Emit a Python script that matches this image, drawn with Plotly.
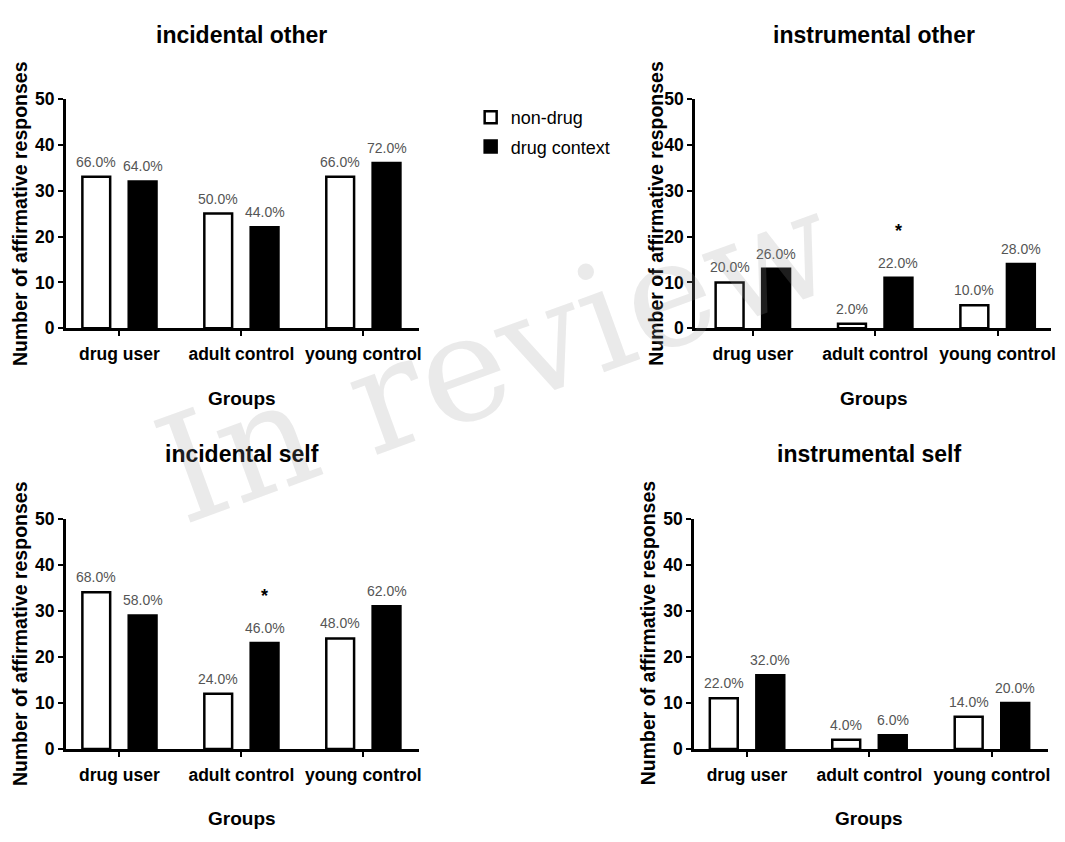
import plotly.graph_objects as go

groups = ["drug user", "adult control", "young control"]
panel_titles = ["incidental other", "instrumental other", "incidental self", "instrumental self"]

# counts out of 50 (percent = count * 2)
incidental_other_nondrug = [33, 25, 33]
incidental_other_drug = [32, 22, 36]
instrumental_other_nondrug = [10, 1, 5]
instrumental_other_drug = [13, 11, 14]
incidental_self_nondrug = [34, 12, 24]
incidental_self_drug = [29, 23, 31]
instrumental_self_nondrug = [11, 2, 7]
instrumental_self_drug = [16, 3, 10]

pct_incidental_other_nondrug = ["66.0%", "50.0%", "66.0%"]
pct_incidental_other_drug = ["64.0%", "44.0%", "72.0%"]
pct_instrumental_other_nondrug = ["20.0%", "2.0%", "10.0%"]
pct_instrumental_other_drug = ["26.0%", "22.0%", "28.0%"]
pct_incidental_self_nondrug = ["68.0%", "24.0%", "48.0%"]
pct_incidental_self_drug = ["58.0%", "46.0%", "62.0%"]
pct_instrumental_self_nondrug = ["22.0%", "4.0%", "14.0%"]
pct_instrumental_self_drug = ["32.0%", "6.0%", "20.0%"]

# significance stars: (panel index, group index) on drug-context bar
stars = [(1, 1), (2, 1)]

y_ticks = [0, 10, 20, 30, 40, 50]

panels = [
    (incidental_other_nondrug, incidental_other_drug, pct_incidental_other_nondrug, pct_incidental_other_drug),
    (instrumental_other_nondrug, instrumental_other_drug, pct_instrumental_other_nondrug, pct_instrumental_other_drug),
    (incidental_self_nondrug, incidental_self_drug, pct_incidental_self_nondrug, pct_incidental_self_drug),
    (instrumental_self_nondrug, instrumental_self_drug, pct_instrumental_self_nondrug, pct_instrumental_self_drug),
]

W, H = 1065, 842
FONT = "Liberation Sans, Arial, sans-serif"

# layout geometry (paper fractions)
x_domains = [[0.062, 0.395], [0.655, 0.991], [0.062, 0.395], [0.654, 0.988]]
y_domains = [[0.6128, 0.8919], [0.6128, 0.8919], [0.1010, 0.3812], [0.1010, 0.3812]]
x_ranges = [[-0.44, 2.457], [-0.473, 2.44], [-0.44, 2.457], [-0.434, 2.46]]
title_pos = [(0.228, 0.970), (0.824, 0.970), (0.228, 0.4596), (0.819, 0.4596)]
xtitle_pos = [(0.228, 0.527), (0.824, 0.527), (0.228, 0.0166), (0.819, 0.0166)]
ytitle_pos = [(0.0188, 0.753), (0.618, 0.753), (0.0188, 0.242), (0.611, 0.242)]

BARGAP = 0.24
BARGROUPGAP = 0.40
OFF = (1 - BARGAP) / 4

xpos = list(range(len(groups)))

fig = go.Figure()
annotations = []

for i, (nd, dr, pnd, pdr) in enumerate(panels):
    xa = "x" if i == 0 else f"x{i+1}"
    ya = "y" if i == 0 else f"y{i+1}"
    fig.add_trace(go.Bar(
        x=xpos, y=nd, name="non-drug", xaxis=xa, yaxis=ya,
        marker=dict(color="white", line=dict(color="black", width=2.5)),
        showlegend=(i == 0), legendgroup="a", hoverinfo="skip",
    ))
    fig.add_trace(go.Bar(
        x=xpos, y=dr, name="drug context", xaxis=xa, yaxis=ya,
        marker=dict(color="black", line=dict(color="black", width=2.5)),
        showlegend=(i == 0), legendgroup="b", hoverinfo="skip",
    ))
    for g in xpos:
        annotations.append(dict(
            x=g - OFF, y=nd[g], xref=xa, yref=ya, text=pnd[g], showarrow=False,
            yanchor="middle", yshift=15, font=dict(family=FONT, size=14, color="#555555"),
        ))
        annotations.append(dict(
            x=g + OFF, y=dr[g], xref=xa, yref=ya, text=pdr[g], showarrow=False,
            yanchor="middle", yshift=15, font=dict(family=FONT, size=14, color="#555555"),
        ))
    tx, ty = title_pos[i]
    annotations.append(dict(x=tx, y=ty, xref="paper", yref="paper", text=f"<b>{panel_titles[i]}</b>",
                            showarrow=False, xanchor="center", yanchor="middle",
                            font=dict(family=FONT, size=23, color="black")))
    gx, gy = xtitle_pos[i]
    annotations.append(dict(x=gx, y=gy, xref="paper", yref="paper", text="<b>Groups</b>",
                            showarrow=False, xanchor="center", yanchor="middle",
                            font=dict(family=FONT, size=19, color="black")))
    yx, yy = ytitle_pos[i]
    annotations.append(dict(x=yx, y=yy, xref="paper", yref="paper",
                            text="<b>Number of affirmative responses</b>", textangle=-90,
                            showarrow=False, xanchor="center", yanchor="middle",
                            font=dict(family=FONT, size=19.5, color="black")))

for (p, g) in stars:
    xa = "x" if p == 0 else f"x{p+1}"
    ya = "y" if p == 0 else f"y{p+1}"
    val = panels[p][1][g]
    annotations.append(dict(x=g + OFF, y=val, xref=xa, yref=ya, text="<b>*</b>", showarrow=False,
                            yanchor="middle", yshift=47, font=dict(family=FONT, size=18, color="black")))

# watermark
annotations.append(dict(x=0.4676, y=0.5784, xref="paper", yref="paper", text="In review",
                        showarrow=False, textangle=-20, xanchor="center", yanchor="middle",
                        font=dict(family="DejaVu Serif, serif", size=148,
                                  color="rgba(150,150,150,0.2)")))

layout = dict(
    width=W, height=H,
    margin=dict(l=0, r=0, t=0, b=0),
    paper_bgcolor="white", plot_bgcolor="white",
    barmode="group", bargap=BARGAP, bargroupgap=BARGROUPGAP,
    font=dict(family=FONT, color="black"),
    annotations=annotations,
    legend=dict(x=0.4436, y=0.8917, xanchor="left", yanchor="top",
                font=dict(family=FONT, size=18, color="black"),
                tracegroupgap=3, bgcolor="rgba(0,0,0,0)"),
)

for i in range(4):
    xk = "xaxis" if i == 0 else f"xaxis{i+1}"
    yk = "yaxis" if i == 0 else f"yaxis{i+1}"
    ya = "y" if i == 0 else f"y{i+1}"
    xa = "x" if i == 0 else f"x{i+1}"
    layout[xk] = dict(
        domain=x_domains[i], anchor=ya, range=x_ranges[i],
        tickmode="array", tickvals=xpos, ticktext=[f"<b>{g}</b>" for g in groups],
        ticks="outside", ticklen=5, tickwidth=2, tickcolor="black",
        showline=True, linecolor="black", linewidth=2.5,
        showgrid=False, zeroline=False, fixedrange=True,
        tickfont=dict(family=FONT, size=17.5, color="black"),
        ticklabelstandoff=3,
    )
    layout[yk] = dict(
        domain=y_domains[i], anchor=xa, range=[0, 50],
        tickmode="array", tickvals=y_ticks, ticktext=[f"<b>{t}</b>" for t in y_ticks],
        ticks="outside", ticklen=5, tickwidth=2, tickcolor="black",
        showline=True, linecolor="black", linewidth=2.5,
        showgrid=False, zeroline=False, fixedrange=True,
        tickfont=dict(family=FONT, size=17.5, color="black"),
    )

fig.update_layout(**layout)
fig.write_html("out.html", config={"displayModeBar": False},
               post_script="document.body.style.margin='0';document.body.style.overflow='hidden';")
